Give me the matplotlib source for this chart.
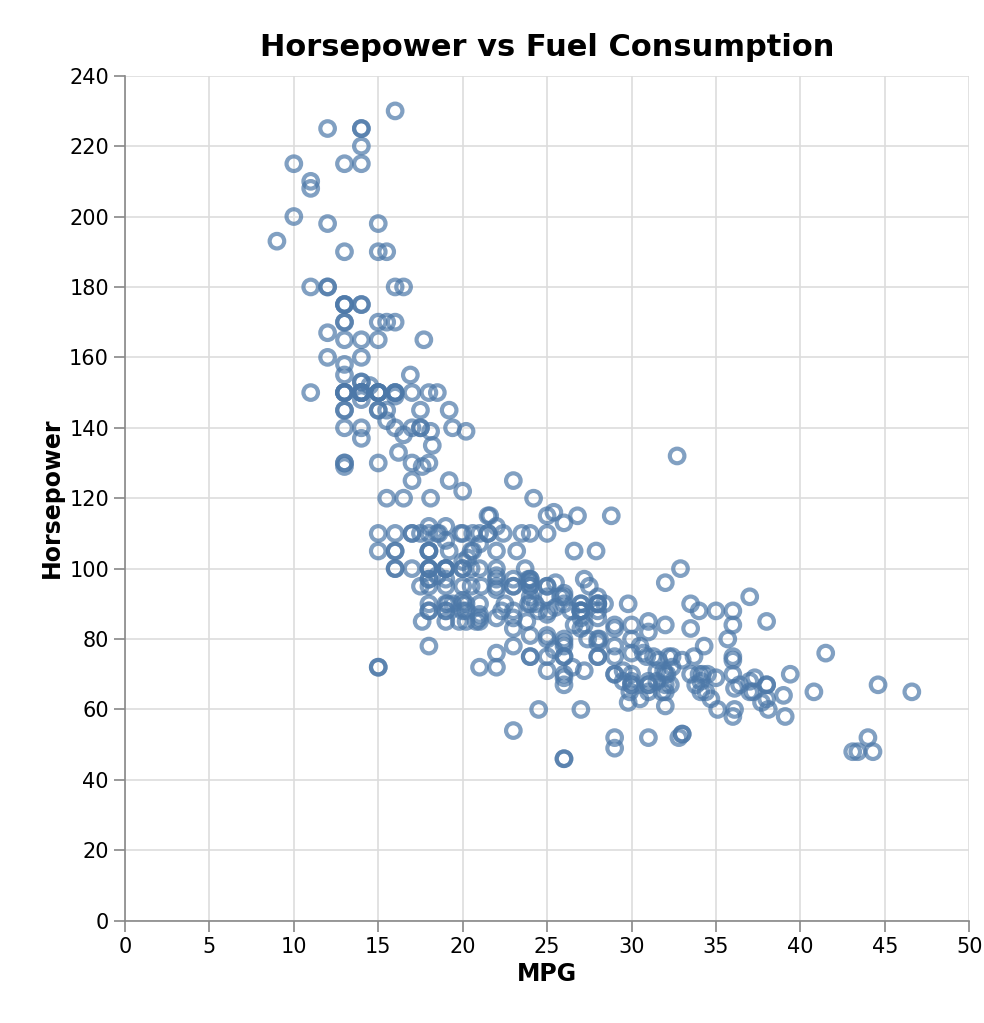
#!/usr/bin/env python3
"""
plot.py — Horsepower vs MPG scatter (cars data)
"""

import numpy as np
import matplotlib
matplotlib.use("Agg")
import matplotlib.pyplot as plt

# (mpg, horsepower)
CARS = [
    (18, 130), (15, 165), (18, 150), (16, 150), (17, 140), (15, 198), (14, 220), (14, 215), (14, 225), (15, 190),
    (15, 170), (14, 160), (15, 150), (14, 225), (24, 95), (22, 95), (18, 97), (21, 85), (27, 88), (26, 46),
    (25, 87), (24, 90), (25, 95), (26, 113), (21, 90), (10, 215), (10, 200), (11, 210), (9, 193), (27, 88),
    (28, 90), (25, 95), (19, 100), (16, 105), (17, 100), (19, 88), (18, 100), (14, 165), (14, 175), (14, 153),
    (14, 150), (12, 180), (13, 170), (13, 175), (18, 110), (22, 72), (19, 100), (18, 88), (23, 86), (28, 90),
    (30, 70), (30, 76), (31, 65), (35, 69), (27, 60), (26, 70), (24, 95), (25, 80), (23, 54), (20, 90),
    (21, 86), (13, 165), (14, 175), (15, 150), (14, 153), (17, 150), (11, 208), (13, 155), (12, 160), (13, 190),
    (19, 97), (15, 150), (13, 130), (13, 140), (14, 150), (18, 112), (22, 76), (21, 87), (26, 69), (22, 86),
    (28, 92), (23, 97), (28, 80), (27, 88), (13, 175), (14, 150), (13, 145), (14, 137), (15, 150), (12, 198),
    (13, 150), (13, 158), (14, 150), (13, 215), (12, 225), (13, 175), (18, 105), (16, 100), (18, 100), (18, 88),
    (23, 95), (26, 46), (11, 150), (12, 167), (13, 170), (12, 180), (18, 100), (20, 88), (21, 72), (22, 94),
    (18, 90), (19, 85), (21, 107), (26, 90), (15, 145), (16, 230), (29, 49), (24, 75), (20, 91), (19, 112),
    (15, 150), (24, 110), (20, 122), (11, 180), (20, 95), (21, 100), (19, 100), (15, 105), (31, 67), (26, 80),
    (32, 65), (25, 75), (16, 100), (16, 110), (18, 105), (16, 140), (13, 150), (14, 150), (14, 140), (14, 150),
    (29, 83), (26, 67), (26, 78), (31, 52), (32, 61), (28, 75), (24, 75), (26, 75), (24, 97), (26, 93),
    (31, 67), (19, 95), (18, 105), (15, 72), (15, 72), (16, 170), (15, 145), (16, 150), (14, 148), (17, 110),
    (16, 105), (15, 110), (18, 95), (21, 110), (20, 110), (13, 129), (29, 75), (23, 83), (20, 100), (23, 78),
    (24, 96), (25, 71), (24, 97), (18, 97), (29, 70), (19, 90), (23, 95), (23, 88), (22, 98), (25, 115),
    (33, 53), (28, 86), (25, 81), (25, 92), (26, 79), (27, 83), (17.5, 140), (16, 150), (15.5, 120), (14.5, 152),
    (22, 100), (22, 105), (24, 81), (22.5, 90), (29, 52), (24.5, 60), (29, 70), (33, 53), (20, 100), (18, 78),
    (18.5, 110), (17.5, 95), (29.5, 71), (32, 70), (28, 75), (26.5, 72), (20, 102), (13, 150), (19, 88), (19, 108),
    (16.5, 120), (16.5, 180), (13, 145), (13, 130), (13, 150), (31.5, 68), (30, 80), (36, 58), (25.5, 96), (33.5, 70),
    (17.5, 145), (17, 110), (15.5, 145), (15, 130), (17.5, 110), (20.5, 105), (19, 100), (18.5, 98), (16, 180), (15.5, 170),
    (15.5, 190), (16, 149), (29, 78), (24.5, 88), (26, 75), (25.5, 89), (30.5, 63), (33.5, 83), (30, 67), (30.5, 78),
    (22, 97), (21.5, 110), (21.5, 110), (43.1, 48), (36.1, 66), (32.8, 52), (39.4, 70), (36.1, 60), (19.9, 110), (19.4, 140),
    (20.2, 139), (19.2, 105), (20.5, 95), (20.2, 85), (25.1, 88), (20.5, 100), (19.4, 90), (20.6, 105), (20.8, 85), (18.6, 110),
    (18.1, 120), (19.2, 145), (17.7, 165), (18.1, 139), (17.5, 140), (30, 68), (27.5, 95), (27.2, 97), (30.9, 75), (21.1, 95),
    (23.2, 105), (23.8, 85), (23.9, 97), (20.3, 103), (17, 125), (21.6, 115), (16.2, 133), (31.5, 71), (29.5, 68), (21.5, 115),
    (19.8, 85), (22.3, 88), (20.2, 90), (20.6, 110), (17, 130), (17.6, 129), (16.5, 138), (18.2, 135), (16.9, 155), (15.5, 142),
    (19.2, 125), (18.5, 150), (31.9, 71), (34.1, 65), (35.7, 80), (27.4, 80), (25.4, 77), (23, 125), (27.2, 71), (23.9, 90),
    (34.2, 70), (34.5, 70), (31.8, 65), (37.3, 69), (28.4, 90), (28.8, 115), (26.8, 115), (33.5, 90), (41.5, 76), (38.1, 60),
    (32.1, 70), (37.2, 65), (28, 90), (26.4, 88), (24.3, 90), (19.1, 90), (34.3, 78), (29.8, 90), (31.3, 75), (37, 92),
    (32.2, 75), (46.6, 65), (27.9, 105), (40.8, 65), (44.3, 48), (43.4, 48), (36.4, 67), (30, 67), (44.6, 67), (33.8, 67),
    (29.8, 62), (32.7, 132), (23.7, 100), (35, 88), (32.4, 72), (27.2, 84), (26.6, 84), (25.8, 92), (23.5, 110), (30, 84),
    (39.1, 58), (39, 64), (35.1, 60), (32.3, 67), (37, 65), (37.7, 62), (34.1, 68), (34.7, 63), (34.4, 65), (29.9, 65),
    (33, 74), (33.7, 75), (32.4, 75), (32.9, 100), (31.6, 74), (28.1, 80), (30.7, 76), (25.4, 116), (24.2, 120), (22.4, 110),
    (26.6, 105), (20.2, 88), (17.6, 85), (28, 88), (27, 88), (34, 88), (31, 85), (29, 84), (27, 90), (24, 92),
    (36, 74), (37, 68), (31, 68), (38, 63), (36, 70), (36, 88), (36, 75), (34, 70), (38, 67), (32, 67),
    (38, 67), (25, 110), (38, 85), (26, 92), (22, 112), (32, 96), (36, 84), (27, 90), (27, 86), (44, 52),
    (32, 84), (28, 79), (31, 82),
]


def main():
    data = np.array(CARS)
    mpg, hp = data[:, 0], data[:, 1]

    fig, ax = plt.subplots(figsize=(9.84, 10.23), dpi=100)
    fig.subplots_adjust(left=0.127, right=0.985, top=0.926, bottom=0.1)

    ax.scatter(mpg, hp, s=110, facecolors="none", edgecolors="#4c78a8",
               linewidths=3, alpha=0.7, zorder=3)

    ax.set_xlim(0, 50)
    ax.set_ylim(0, 240)
    ax.set_xticks(range(0, 51, 5))
    ax.set_yticks(range(0, 241, 20))
    ax.grid(True, color="#dddddd", linewidth=1.2)
    ax.set_axisbelow(True)
    for side in ["top", "right"]:
        ax.spines[side].set_visible(False)
    for side in ["left", "bottom"]:
        ax.spines[side].set_color("#888888")
        ax.spines[side].set_linewidth(1.2)
    ax.tick_params(colors="#888888", labelcolor="black", labelsize=15, length=8, width=1.2)

    ax.set_xlabel("MPG", fontsize=17, fontweight="bold")
    ax.set_ylabel("Horsepower", fontsize=17, fontweight="bold")
    ax.set_title("Horsepower vs Fuel Consumption", fontsize=22, fontweight="bold", pad=14)

    plt.savefig("out.png", dpi=100)
    plt.close()


if __name__ == "__main__":
    main()
